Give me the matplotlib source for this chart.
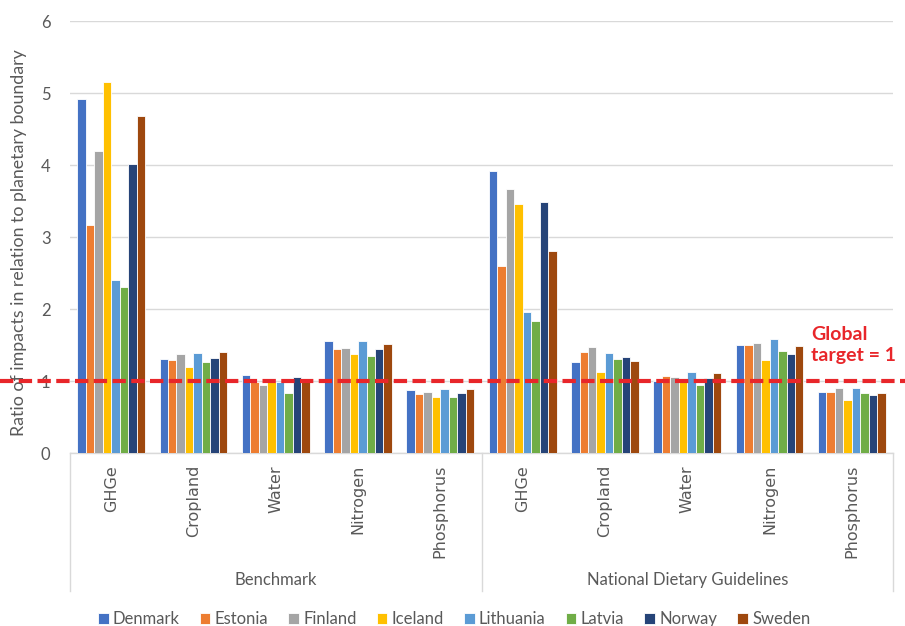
import matplotlib
matplotlib.use("Agg")
import matplotlib.pyplot as plt
import matplotlib.transforms as mtransforms
from matplotlib.lines import Line2D
import numpy as np

plt.rcParams['font.family'] = ['Lato', 'DejaVu Sans']

countries = ["Denmark", "Estonia", "Finland", "Iceland", "Lithuania", "Latvia", "Norway", "Sweden"]
colors = ["#4472C4", "#ED7D31", "#A5A5A5", "#FFC000", "#5B9BD5", "#70AD47", "#264478", "#9E480E"]
indicators = ["GHGe", "Cropland", "Water", "Nitrogen", "Phosphorus"]
scenarios = ["Benchmark", "National Dietary Guidelines"]

# rows: countries, columns: Benchmark (GHGe..Phosphorus) then NDG (GHGe..Phosphorus)
denmark   = [4.92, 1.31, 1.09, 1.55, 0.88, 3.91, 1.26, 1.00, 1.50, 0.85]
estonia   = [3.16, 1.29, 0.99, 1.44, 0.82, 2.60, 1.40, 1.07, 1.50, 0.85]
finland   = [4.19, 1.37, 0.95, 1.46, 0.85, 3.67, 1.47, 1.05, 1.53, 0.90]
iceland   = [5.15, 1.20, 0.99, 1.37, 0.78, 3.46, 1.12, 0.98, 1.29, 0.74]
lithuania = [2.40, 1.39, 0.99, 1.56, 0.89, 1.96, 1.39, 1.13, 1.59, 0.90]
latvia    = [2.31, 1.27, 0.84, 1.35, 0.78, 1.83, 1.31, 0.95, 1.42, 0.83]
norway    = [4.01, 1.32, 1.05, 1.44, 0.84, 3.49, 1.33, 1.04, 1.38, 0.81]
sweden    = [4.68, 1.40, 1.03, 1.52, 0.89, 2.80, 1.28, 1.11, 1.48, 0.83]
series = [denmark, estonia, finland, iceland, lithuania, latvia, norway, sweden]

target = 1.0
yticks = [0, 1, 2, 3, 4, 5, 6]

text_gray = "#595959"
grid_gray = "#D9D9D9"
red = "#E8262A"

fig = plt.figure(figsize=(9.05, 6.26), dpi=100)
ax = fig.add_axes([70 / 905, 1 - 453 / 626, 823 / 905, 432 / 626])

n_groups = len(indicators) * len(scenarios)
x = np.arange(n_groups)
pitch = 0.103
for i, (vals, c, name) in enumerate(zip(series, colors, countries)):
    ax.bar(x + (i - 3.5) * pitch, vals, width=pitch, color=c, edgecolor="white",
           linewidth=0.6, label=name, zorder=3)

ax.set_xlim(-0.5, n_groups - 0.5)
ax.set_ylim(0, 6)
ax.set_yticks(yticks)
ax.set_yticklabels([str(t) for t in yticks], color=text_gray, fontsize=12)
ax.tick_params(axis="y", length=0, pad=14)
ax.yaxis.grid(True, color=grid_gray, linewidth=1.0, zorder=0)
ax.set_xticks([])
for s in ["top", "right", "left"]:
    ax.spines[s].set_visible(False)
ax.spines["bottom"].set_color(grid_gray)
ax.spines["bottom"].set_linewidth(1.0)

ax.set_ylabel("Ratio of impacts in relation to planetary boundary", color=text_gray,
              fontsize=12.8)
ax.yaxis.set_label_coords(-0.052, 0.487)

# two-level category axis
trans = mtransforms.blended_transform_factory(ax.transData, ax.transAxes)
y_px = lambda p: (453 - p) / 432
for g in range(n_groups):
    ax.text(x[g], y_px(465), indicators[g % len(indicators)], rotation=90,
            ha="center", va="top", fontsize=11.5, color=text_gray, transform=trans,
            fontfamily="DejaVu Sans")
for k, name in enumerate(scenarios):
    centre = (k * len(indicators) + (k + 1) * len(indicators) - 1) / 2
    ax.text(centre, y_px(580), name, ha="center", va="center", fontsize=12,
            color=text_gray, transform=trans)
for xb in [-0.5, 4.5, 9.5]:
    ax.add_line(Line2D([xb, xb], [0, y_px(591)], transform=trans, color=grid_gray,
                       linewidth=1.0, clip_on=False))

# target line across the full figure width
ftrans = mtransforms.blended_transform_factory(fig.transFigure, ax.transData)
ax.add_line(Line2D([0, 1], [target, target], transform=ftrans, color=red, linewidth=3.0,
                   dashes=(3.2, 1.3), clip_on=False, zorder=5))
fig.text(811 / 905, 1 - 345 / 626, "Global\ntarget = 1", color=red, fontsize=14,
         fontweight="bold", ha="left", va="center", linespacing=1.35)

fig.legend(loc="center", bbox_to_anchor=(454 / 905, 1 - 619 / 626), ncol=8, frameon=False,
           fontsize=12, handlelength=0.65, handleheight=0.65, handletextpad=0.25,
           columnspacing=1.2, labelcolor=text_gray)

fig.savefig("out.png", dpi=100)
